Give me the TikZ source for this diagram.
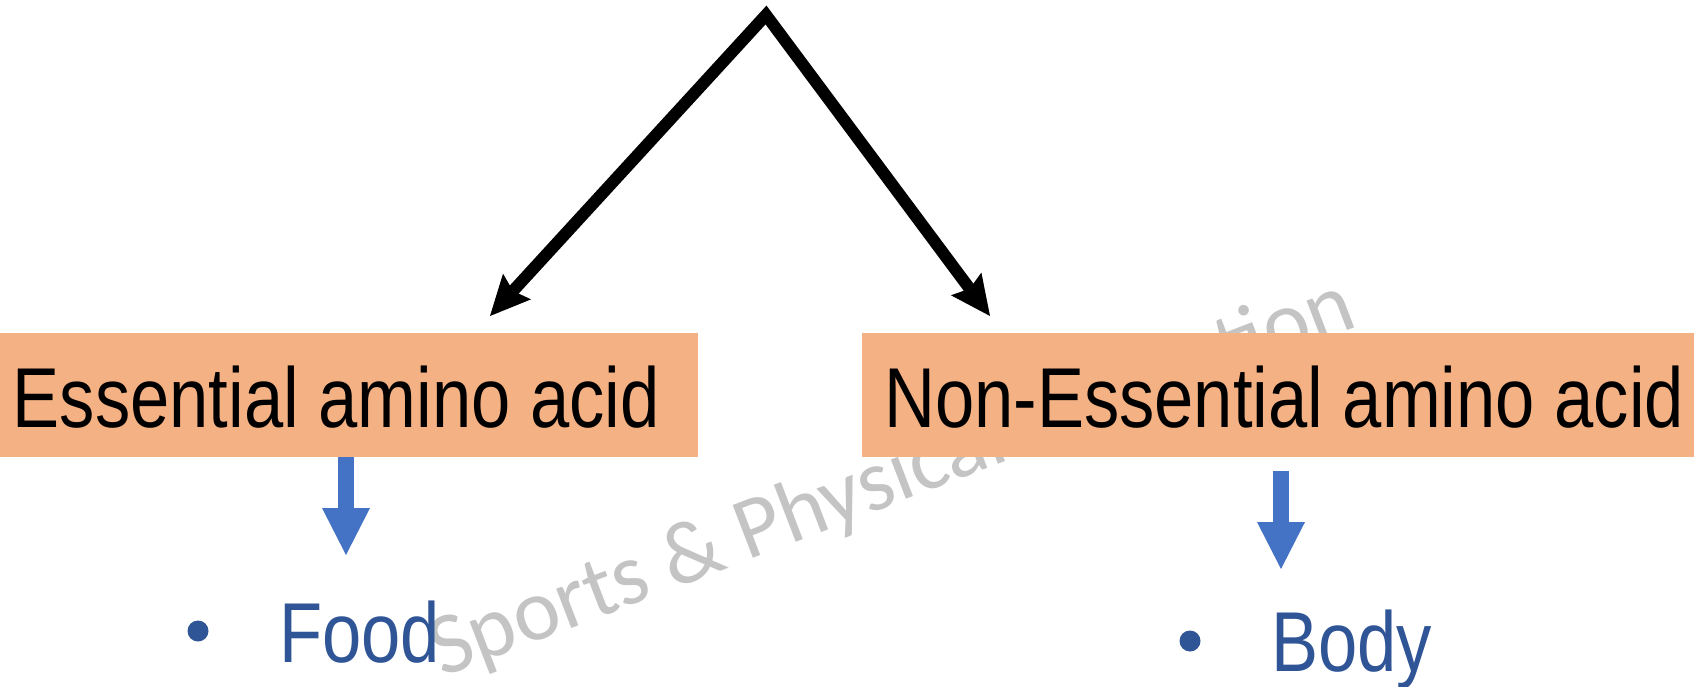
\documentclass[tikz,border=0pt]{standalone}
\usepackage{fontspec}
\usetikzlibrary{arrows.meta}
\newfontfamily\arialn[FakeStretch=0.83]{Liberation Sans}
\newfontfamily\wmfont{Carlito}
\definecolor{boxorange}{HTML}{F4B183}
\definecolor{arrblue}{HTML}{4472C4}
\definecolor{txtblue}{HTML}{2F5597}
\definecolor{wmgray}{HTML}{C4C4C4}
\begin{document}
\begin{tikzpicture}[x=1pt,y=-1pt,
  box/.style={fill=boxorange, draw=none, anchor=north west, minimum height=124pt,
    text height=64pt, text depth=0pt, inner ysep=0pt,
    font=\arialn\fontsize{85}{90}\selectfont},
  blackarr/.style={line width=12pt, line join=miter,
    {Stealth[length=40pt,width=38pt,inset=6pt,line width=0pt]}-{Stealth[length=40pt,width=38pt,inset=6pt,line width=0pt]}},
  bluearr/.style={draw=arrblue, line width=16pt, -{Triangle[length=47pt,width=48pt,line width=0pt,fill=arrblue]}},
  item/.style={txtblue, anchor=base west, inner sep=0pt, font=\arialn\fontsize{85}{90}\selectfont},
  dot/.style={circle, fill=txtblue, draw=none, inner sep=0pt, minimum size=21pt},
  wm/.style={wmgray, anchor=base west, inner sep=0pt, font=\wmfont\fontsize{88}{92}\selectfont}
]
\fill[white] (0,0) rectangle (1694,687);
\useasboundingbox (0,0) rectangle (1694,687);

% watermark
\node[wm, rotate=21] (wmark) at (442,678) {Sports \& Physical Education};

% boxes
\node[box, inner xsep=12.5pt] (eaa) at (0,333) {\makebox[673pt][l]{Essential amino acid}};
\node[box, inner xsep=22pt] (neaa) at (862,333) {\makebox[788pt][l]{Non-Essential amino acid}};

% black arrows
\coordinate (top) at (766,15);
\coordinate (tipL) at (490,316);
\coordinate (tipR) at (990,316);
\draw[blackarr] (tipL) -- (top) -- (tipR);

% blue arrows
\coordinate (aL) at (346,555);
\coordinate (aR) at (1281,569);
\draw[bluearr] (aL |- eaa.south) -- (aL);
\draw[bluearr] ([yshift=-14pt]aR |- neaa.south) -- (aR);

% bullet items
\node[dot] (dotL) at (198,631) {};
\node[item] (food) at (279,662) {Food};
\node[dot] (dotR) at (1190,641) {};
\node[item] (body) at (1271,671) {Body};
\end{tikzpicture}
\end{document}
